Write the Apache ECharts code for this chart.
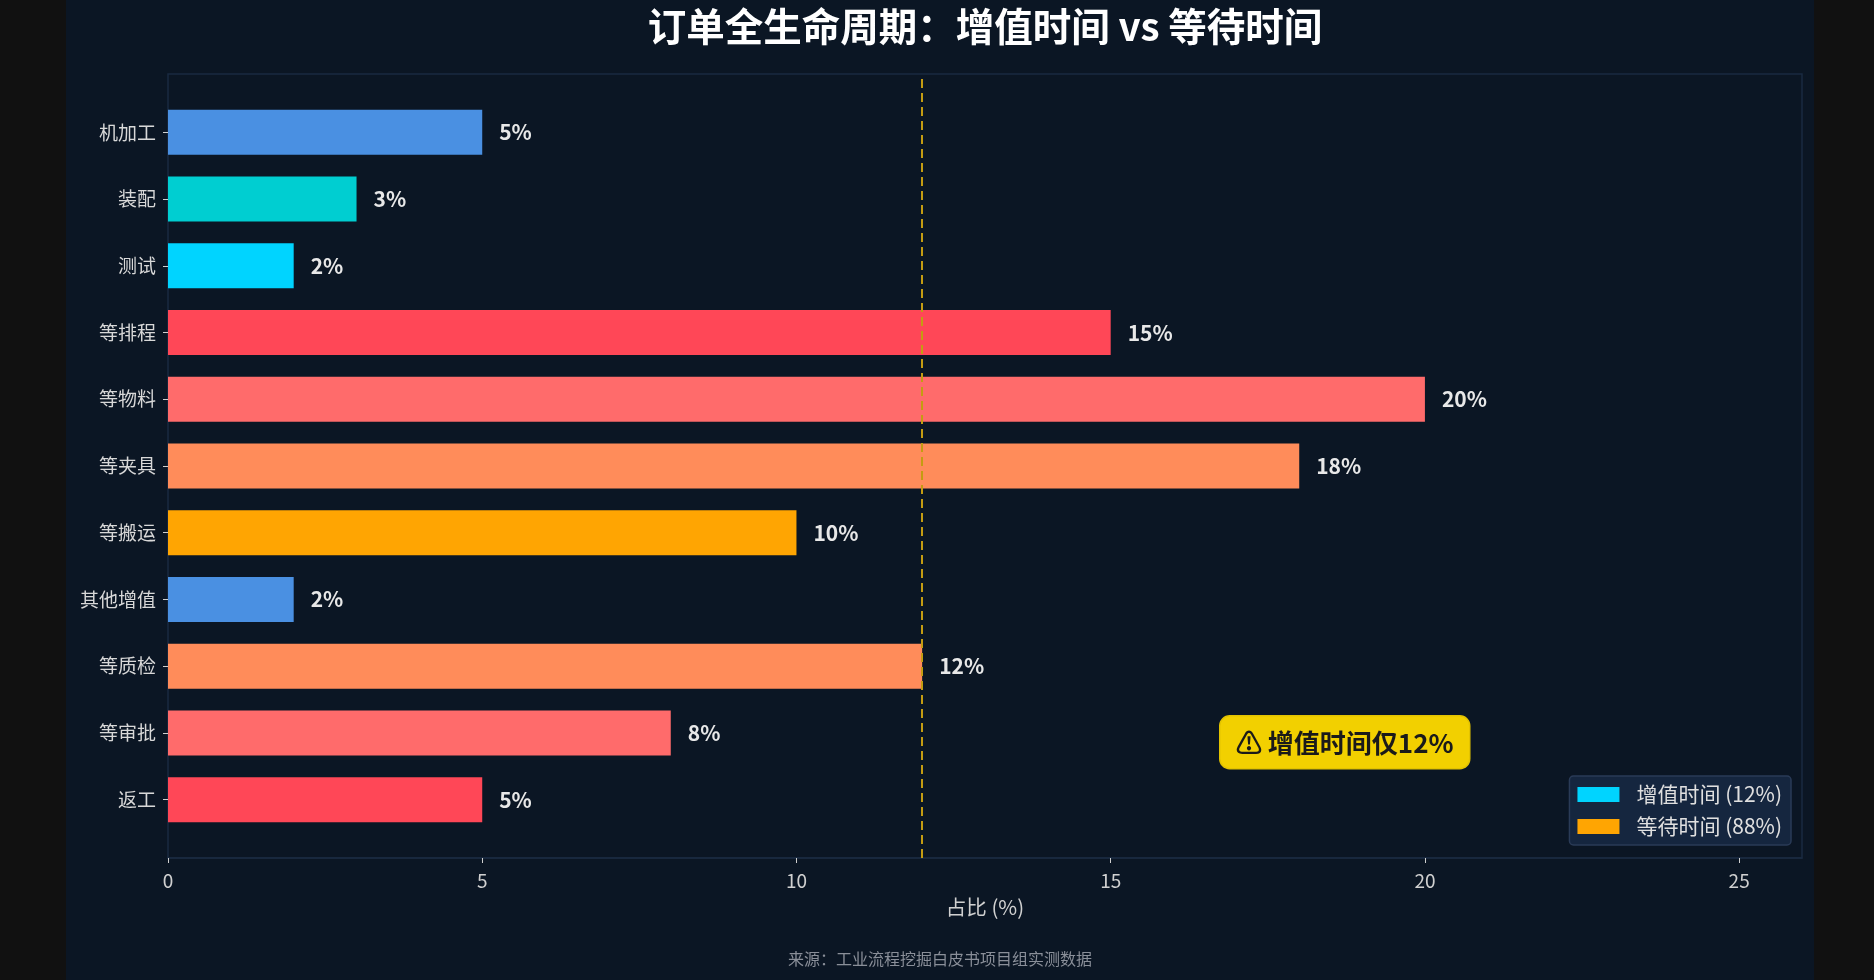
<!DOCTYPE html>
<html lang="zh-CN">
<head>
  <meta charset="UTF-8">
  <title>订单全生命周期：增值时间 vs 等待时间</title>
  <script src="https://cdn.jsdelivr.net/npm/echarts@6/dist/echarts.min.js"></script>
  <style>
    html, body { margin: 0; padding: 0; background: #111111; }
    #main { position: absolute; left: 66px; top: 0; width: 1748px; height: 980px; background: #0b1624; }
  </style>
</head>
<body>
  <div id="main"></div>
  <script>
    // 各环节耗时占比（%）
    const categories = ['机加工', '装配', '测试', '等排程', '等物料', '等夹具', '等搬运', '其他增值', '等质检', '等审批', '返工'];
    const values = [5, 3, 2, 15, 20, 18, 10, 2, 12, 8, 5];
    const barColors = ['#4a90e2', '#00ced1', '#00d4ff', '#ff4757', '#ff6b6b', '#ff8c5a', '#ffa502', '#4a90e2', '#ff8c5a', '#ff6b6b', '#ff4757'];
    const legendNames = ['增值时间 (12%)', '等待时间 (88%)'];
    const legendColors = ['#00d4ff', '#ffa502'];
    const valueAddedTotal = 12;

    const FONT = '"Noto Sans CJK SC", "Noto Sans", sans-serif';
    const chart = echarts.init(document.getElementById('main'));

    const option = {
      backgroundColor: '#0b1624',
      animation: false,
      title: {
        text: '订单全生命周期：增值时间 vs 等待时间',
        left: 914,
        textAlign: 'center',
        top: 2,
        textStyle: { color: '#ffffff', fontSize: 38.5, fontWeight: 'bold', fontFamily: FONT }
      },
      legend: {
        orient: 'vertical',
        right: 23,
        top: 776,
        padding: [8, 9, 8, 8],
        itemGap: 11,
        itemWidth: 42,
        itemHeight: 15,
        icon: 'rect',
        backgroundColor: '#15263f',
        borderColor: '#2a3b57',
        borderWidth: 1.5,
        borderRadius: 4,
        data: legendNames.map((n, i) => ({ name: n, itemStyle: { color: legendColors[i] } })),
        textStyle: { color: '#e0e0e0', fontSize: 21, fontFamily: FONT, padding: [0, 0, 0, 12] }
      },
      grid: [
        { left: 102, right: 12, top: 74, bottom: 122, show: true, borderColor: '#1a2a40', borderWidth: 1.5, backgroundColor: 'transparent' },
        { left: 102, right: 12, top: 99, bottom: 147 }
      ],
      xAxis: [
        {
          gridIndex: 0, type: 'value', min: 0, max: 26, interval: 5,
          name: '占比 (%)', nameLocation: 'middle', nameGap: 39,
          nameTextStyle: { color: '#d0d0d0', fontSize: 20.5, fontFamily: FONT },
          axisLine: { show: true, lineStyle: { color: '#1a2a40', width: 1.5 } },
          axisTick: { show: true, length: 5, lineStyle: { color: '#d0d0d0' } },
          axisLabel: { color: '#d0d0d0', fontSize: 19, fontFamily: FONT, margin: 13, showMaxLabel: false,
            formatter: v => (v % 5 === 0 ? String(v) : '') },
          splitLine: { show: false }
        },
        { gridIndex: 1, type: 'value', min: 0, max: 26, show: false, splitLine: { show: false } }
      ],
      yAxis: [
        { gridIndex: 0, type: 'value', min: 0, max: 1, show: false, splitLine: { show: false } },
        {
          gridIndex: 1, type: 'category', data: categories, inverse: true,
          axisLine: { show: false },
          axisTick: { show: true, alignWithLabel: true, length: 5, lineStyle: { color: '#d0d0d0' } },
          axisLabel: { color: '#d8d8d8', fontSize: 19, fontFamily: FONT, margin: 12 }
        }
      ],
      series: [
        {
          type: 'bar',
          xAxisIndex: 1, yAxisIndex: 1,
          barWidth: 45,
          data: values.map((v, i) => ({ value: v, itemStyle: { color: barColors[i] } })),
          label: {
            show: true, position: 'right', distance: 17,
            formatter: p => p.value + '%',
            color: '#e8e8e8', fontSize: 21, fontWeight: 'bold', fontFamily: FONT
          }
        },
        {
          name: legendNames[0], type: 'line', xAxisIndex: 0, yAxisIndex: 0, data: [],
          itemStyle: { color: legendColors[0] }, lineStyle: { color: legendColors[0] },
          markLine: {
            silent: true, symbol: 'none', z: 10,
            label: { show: false },
            lineStyle: { color: '#c49c12', type: [9, 5], width: 2 },
            data: [{ xAxis: valueAddedTotal }]
          }
        },
        {
          name: legendNames[1], type: 'line', xAxisIndex: 0, yAxisIndex: 0, data: [],
          itemStyle: { color: legendColors[1] }, lineStyle: { color: legendColors[1] }
        }
      ],
      graphic: [
        {
          type: 'group', left: 1153, top: 715,
          children: [
            { type: 'rect', shape: { x: 0, y: 0, width: 250, height: 53, r: 10 },
              style: { fill: '#f2d000', stroke: '#e3c300', lineWidth: 1.5 } },
            { type: 'text', x: 125, y: 27,
              style: { text: '⚠ 增值时间仅' + valueAddedTotal + '%', fill: '#1a1a1a', font: 'bold 26px ' + FONT,
                textAlign: 'center', textVerticalAlign: 'middle' } }
          ]
        },
        {
          type: 'text', left: 'center', top: 951,
          style: { text: '来源：工业流程挖掘白皮书项目组实测数据', fill: '#8a8f99', font: '16px ' + FONT }
        }
      ]
    };

    chart.setOption(option);
    window.addEventListener('resize', () => chart.resize());
  </script>
</body>
</html>
